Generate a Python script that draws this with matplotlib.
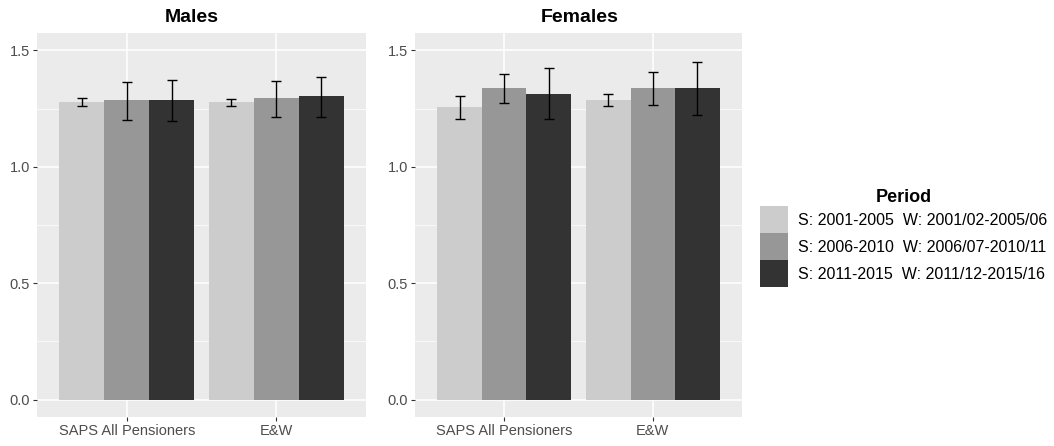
import numpy as np
import matplotlib.pyplot as plt
from matplotlib.patches import Patch

plt.rcParams['font.family'] = ['Liberation Sans', 'DejaVu Sans']

# data
groups = ['SAPS All Pensioners', 'E&W']
periods = ['S: 2001-2005  W: 2001/02-2005/06',
           'S: 2006-2010  W: 2006/07-2010/11',
           'S: 2011-2015  W: 2011/12-2015/16']
colors = ['#CCCCCC', '#979797', '#333333']

males_val = [[1.277, 1.289, 1.289], [1.277, 1.294, 1.304]]
males_lo = [[1.263, 1.203, 1.197], [1.260, 1.214, 1.214]]
males_hi = [[1.294, 1.366, 1.374], [1.293, 1.370, 1.386]]

females_val = [[1.256, 1.339, 1.314], [1.289, 1.339, 1.339]]
females_lo = [[1.206, 1.276, 1.206], [1.260, 1.264, 1.222]]
females_hi = [[1.303, 1.397, 1.424], [1.314, 1.409, 1.449]]

W, H = 1054, 446
fig = plt.figure(figsize=(W / 100, H / 100), dpi=100)

def make_panel(rect, vals, lo, hi, title, title_x):
    ax = fig.add_axes(rect)
    ax.set_facecolor('#EBEBEB')
    vals = np.array(vals)
    lo = np.array(lo)
    hi = np.array(hi)
    bw = 0.3
    x = np.arange(1, len(groups) + 1)
    for j in range(len(periods)):
        xs = x + (j - 1) * bw
        ax.bar(xs, vals[:, j], width=bw, color=colors[j], zorder=3)
        ax.errorbar(xs, vals[:, j], yerr=[vals[:, j] - lo[:, j], hi[:, j] - vals[:, j]],
                    fmt='none', ecolor='black', elinewidth=1.0, capsize=3.4,
                    capthick=1.0, zorder=4)
    ax.set_xlim(0.4, 2.6)
    ax.set_ylim(-0.075, 1.575)
    ax.set_yticks([0, 0.5, 1.0, 1.5])
    ax.set_yticklabels(['0.0', '0.5', '1.0', '1.5'])
    ax.set_yticks([0.25, 0.75, 1.25], minor=True)
    ax.set_xticks(x)
    ax.set_xticklabels(groups)
    ax.grid(which='major', color='white', linewidth=1.1, zorder=0)
    ax.grid(which='minor', axis='y', color='white', linewidth=0.5, zorder=0)
    ax.set_axisbelow(True)
    for s in ax.spines.values():
        s.set_visible(False)
    ax.tick_params(which='major', length=3, color='#333333', labelsize=10.5,
                   labelcolor='#4D4D4D', pad=2)
    ax.tick_params(which='minor', length=0)
    fig.text(title_x / W, 1 - 17 / H, title, ha='center', va='center',
             fontsize=14, fontweight='bold', color='black')
    return ax

bottom = 1 - 417 / H
height = 384 / H
make_panel([37 / W, bottom, 329 / W, height], males_val, males_lo, males_hi, 'Males', 192)
make_panel([415 / W, bottom, 327 / W, height], females_val, females_lo, females_hi, 'Females', 580)

handles = [Patch(facecolor=c, edgecolor='none') for c in colors]
fig.legend(handles, periods, loc='upper left', bbox_to_anchor=(760 / W, 1 - 189 / H),
           frameon=False, title='Period',
           title_fontproperties={'weight': 'bold', 'size': 13},
           fontsize=11.5, handlelength=1.75, handleheight=2.23, labelspacing=0.0,
           handletextpad=0.6, borderpad=0, borderaxespad=0)

fig.savefig('out.png', dpi=100)
